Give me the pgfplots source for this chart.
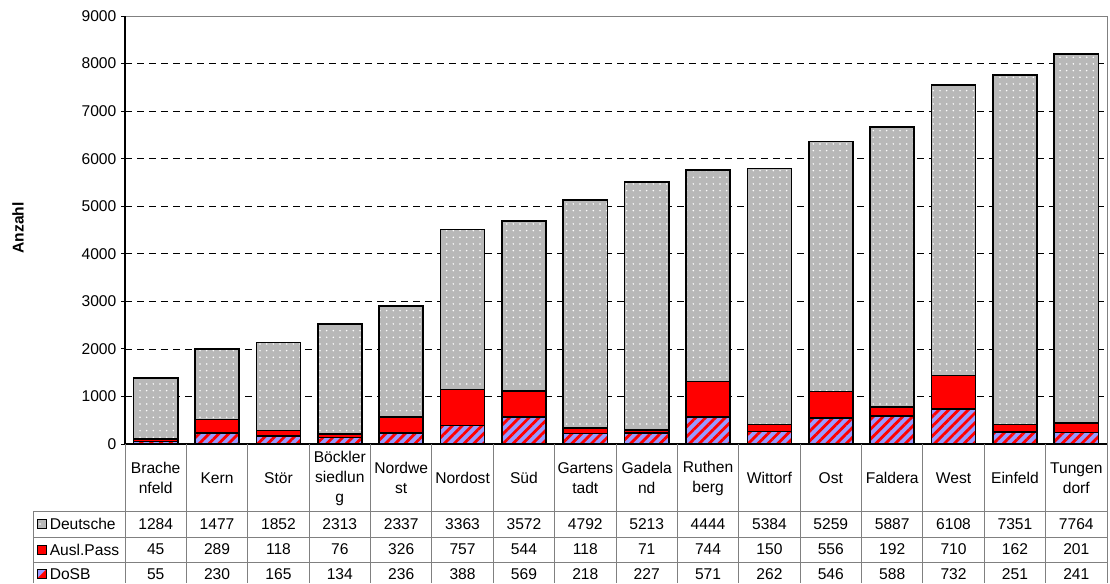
\documentclass[border=0pt]{standalone}
\usepackage{pgfplots}
\pgfplotsset{compat=1.18}
\usepackage{pgfplotstable}
\usepackage{fontspec}
\setmainfont{Liberation Sans}
\usetikzlibrary{patterns.meta}

\definecolor{dosbblue}{HTML}{9999FF}
\definecolor{auslred}{HTML}{FF0000}
\definecolor{tablegray}{HTML}{808080}

% Einwohner je Stadtteil: Deutsche (D), Ausl. Pass (A), DoSB (S)
\pgfplotstableread{
idx D A S
0 1284 45 55
1 1477 289 230
2 1852 118 165
3 2313 76 134
4 2337 326 236
5 3363 757 388
6 3572 544 569
7 4792 118 218
8 5213 71 227
9 4444 744 571
10 5384 150 262
11 5259 556 546
12 5887 192 588
13 6108 710 732
14 7351 162 251
15 7764 201 241
}\data

\tikzset{
  deutsche/.style={preaction={fill=black!28}, pattern={Dots[distance=5pt,radius=0.65pt]}, pattern color=white},
  ausl/.style={fill=auslred},
  dosb/.style={preaction={fill=dosbblue}, pattern={Lines[angle=45,distance=5.2pt,line width=2.1pt]}, pattern color=auslred},
}

\begin{document}
\begin{tikzpicture}
% fixed page size: 1110 x 583 px at 0.75pt per px, origin at the top left
\begin{scope}[x=0.75pt,y=-0.75pt]
  \useasboundingbox (0,0) rectangle (1110,583);
\end{scope}

\begin{axis}[
  at={(93.75pt,-333pt)}, anchor=south west,
  scale only axis, width=736.5pt, height=321pt,
  xmin=-0.5, xmax=15.5, ymin=0, ymax=9000,
  ybar stacked, bar width=0.72,
  xtick=\empty,
  ytick={1000,2000,...,8000},
  extra y ticks={0,9000},
  extra y tick style={grid=none},
  ymajorgrids,
  grid style={black, dash pattern=on 5.5pt off 3.5pt, line width=0.5pt},
  axis line style={draw=none},
  tick align=outside, ytick pos=left,
  major tick length=3pt,
  tick style={black, line width=0.6pt},
  /pgf/number format/assume math mode=true,
  /pgf/number format/1000 sep={},
  y tick label style={font=\fontsize{11.7}{14}\selectfont},
  clip=false,
]
\addplot[dosb, draw=black, line width=1.2pt] table[x=idx,y=S]{\data};
\addplot[ausl, draw=black, line width=1.2pt] table[x=idx,y=A]{\data};
\addplot[deutsche, draw=black, line width=1.2pt] table[x=idx,y=D]{\data};
\end{axis}

\begin{scope}[x=0.75pt,y=-0.75pt, font=\fontsize{11.7}{15}\selectfont]
  % plot area frame
  \draw[tablegray, line width=0.6pt] (125,16) -- (1107,16) -- (1107,444);
  \draw[black, line width=0.8pt] (125,16) -- (125,444) -- (1107,444);
  % y axis title
  \node[rotate=90, font=\fontsize{11.7}{14}\selectfont\bfseries] at (18,228) {Anzahl};

  % data table grid
  \foreach \i in {0,...,16} {
    \draw[tablegray, line width=0.6pt] ({125+61.375*\i},444) -- ({125+61.375*\i},583);
  }
  \draw[tablegray, line width=0.6pt] (33,511) -- (33,583);
  \foreach \yy in {511,537,562} {
    \draw[tablegray, line width=0.6pt] (33,\yy) -- (1107,\yy);
  }

  % category names
  \foreach \name [count=\c from 0] in {Brache\\nfeld, Kern, Stör, Böckler\\siedlun\\g, Nordwe\\st, Nordost, Süd, Gartens\\tadt, Gadela\\nd, Ruthen\\berg, Wittorf, Ost, Faldera, West, Einfeld, Tungen\\dorf} {
    \node[align=center, inner sep=0pt] at ({125+61.375*(\c+0.5)},478) {\name};
  }

  % values
  \foreach \i in {0,...,15} {
    \pgfplotstablegetelem{\i}{D}\of\data
    \node at ({125+61.375*(\i+0.5)},524) {\pgfplotsretval};
    \pgfplotstablegetelem{\i}{A}\of\data
    \node at ({125+61.375*(\i+0.5)},549.5) {\pgfplotsretval};
    \pgfplotstablegetelem{\i}{S}\of\data
    \node at ({125+61.375*(\i+0.5)},574) {\pgfplotsretval};
  }

  % series keys
  \draw[deutsche, draw=black, line width=0.5pt] (37,519.5) rectangle (46,528.5);
  \node[anchor=west, inner sep=0pt] at (49.5,524) {Deutsche};
  \draw[ausl, draw=black, line width=0.5pt] (37,545) rectangle (46,554);
  \node[anchor=west, inner sep=0pt] at (49.5,549.5) {Ausl.Pass};
  \fill[dosbblue] (37,569.5) -- (46,569.5) -- (37,578.5) -- cycle;
  \fill[auslred] (46,569.5) -- (46,578.5) -- (37,578.5) -- cycle;
  \draw[black, line width=0.5pt] (37,569.5) rectangle (46,578.5);
  \node[anchor=west, inner sep=0pt] at (49.5,574) {DoSB};
\end{scope}
\end{tikzpicture}
\end{document}
